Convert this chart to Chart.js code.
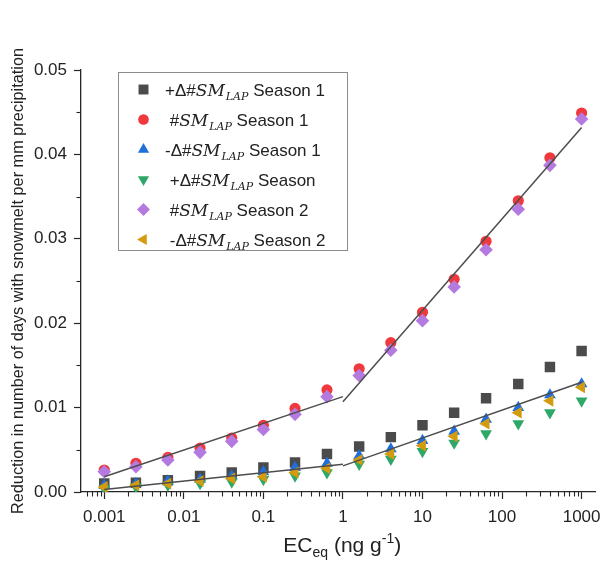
<!DOCTYPE html>
<html><head><meta charset="utf-8">
<script src="https://cdn.jsdelivr.net/npm/chart.js@4/dist/chart.umd.min.js"></script>
<style>html,body{margin:0;padding:0;background:#fff;}canvas{display:block;}</style>
</head><body>
<canvas id="c" width="603" height="564"></canvas>
<script>
// ---- data ----
const ecValues = [0.001, 0.0025, 0.0063, 0.016, 0.04, 0.1, 0.25, 0.63, 1.6, 4, 10, 25, 63, 160, 400, 1000];
const plusSeason1  = [0.0010, 0.0011, 0.0014, 0.0019, 0.0023, 0.0029, 0.0035, 0.0045, 0.0054, 0.0065, 0.0079, 0.0094, 0.0111, 0.0128, 0.0148, 0.0167];
const meanSeason1  = [0.0026, 0.0034, 0.0041, 0.0052, 0.0064, 0.0079, 0.0099, 0.0121, 0.0146, 0.0177, 0.0213, 0.0252, 0.0297, 0.0345, 0.0396, 0.0449];
const minusSeason1 = [0.0008, 0.0010, 0.0013, 0.0015, 0.0019, 0.0024, 0.0029, 0.0034, 0.0043, 0.0051, 0.0061, 0.0072, 0.0086, 0.0100, 0.0115, 0.0128];
const plusSeason2  = [0.0004, 0.0006, 0.0008, 0.0010, 0.0012, 0.0015, 0.0019, 0.0023, 0.0033, 0.0039, 0.0048, 0.0058, 0.0069, 0.0081, 0.0094, 0.0108];
const meanSeason2  = [0.0024, 0.0030, 0.0038, 0.0047, 0.0060, 0.0074, 0.0092, 0.0113, 0.0138, 0.0168, 0.0203, 0.0243, 0.0287, 0.0335, 0.0387, 0.0442];
const minusSeason2 = [0.0006, 0.0008, 0.0010, 0.0013, 0.0016, 0.0018, 0.0023, 0.0028, 0.0038, 0.0045, 0.0055, 0.0066, 0.0081, 0.0094, 0.0108, 0.0124];

const fitUpperLowX  = [0.001, 1];   const fitUpperLowY  = [0.0018, 0.0113];
const fitUpperHighX = [1, 1000];    const fitUpperHighY = [0.0107, 0.0432];
const fitLowerLowX  = [0.001, 1];   const fitLowerLowY  = [0.0003, 0.0033];
const fitLowerHighX = [1, 1000];    const fitLowerHighY = [0.0031, 0.0130];

const xTickValues = [0.001, 0.01, 0.1, 1, 10, 100, 1000];
const xTickLabels = ['0.001', '0.01', '0.1', '1', '10', '100', '1000'];
const yTickValues = [0, 0.01, 0.02, 0.03, 0.04, 0.05];
const yTickLabels = ['0.00', '0.01', '0.02', '0.03', '0.04', '0.05'];

const legendPrefixes = ['+\u0394#', ' #', '-\u0394#', ' +\u0394#', ' #', ' -\u0394#'];
const legendSuffixes = [' Season 1', ' Season 1', ' Season 1', ' Season', ' Season 2', ' Season 2'];
const yTitle = 'Reduction in number of days with snowmelt per mm precipitation';

// ---- styling ----
const axisColor = '#262626';
const textColor = '#222222';
const SANS = '"Liberation Sans", Arial, sans-serif';
const SERIF = '"DejaVu Serif", "Liberation Serif", serif';

const seriesStyles = [
  {data: plusSeason1,  color: '#4b4b4b', style: 'rect',     radius: 7.4, rotation: 0,   order: 6},
  {data: meanSeason1,  color: '#f0393d', style: 'circle',   radius: 5.6, rotation: 0,   order: 5},
  {data: minusSeason1, color: '#1f6fdc', style: 'triangle', radius: 6.8, rotation: 0,   order: 4},
  {data: plusSeason2,  color: '#2ea868', style: 'triangle', radius: 6.8, rotation: 180, order: 3},
  {data: meanSeason2,  color: '#b47ae0', style: 'rectRot',  radius: 6.8, rotation: 0,   order: 2},
  {data: minusSeason2, color: '#d49b0f', style: 'triangle', radius: 6.8, rotation: -90, order: 1},
];

const datasets = seriesStyles.map((s, i) => ({
  label: legendPrefixes[i].trim() + 'SM_LAP' + legendSuffixes[i],
  data: ecValues.map((x, k) => ({x: x, y: s.data[k]})),
  pointStyle: s.style,
  pointRadius: s.radius,
  pointRotation: s.rotation,
  pointBackgroundColor: s.color,
  pointBorderWidth: 0,
  backgroundColor: s.color,
  borderColor: s.color,
  showLine: false,
  order: s.order
}));

function fitSet(xs, ys) {
  return {
    data: xs.map((x, k) => ({x: x, y: ys[k]})),
    showLine: true, pointRadius: 0, borderColor: '#4d4d4d', borderWidth: 1.5,
    fill: false, order: 0
  };
}
datasets.push(fitSet(fitUpperLowX, fitUpperLowY));
datasets.push(fitSet(fitUpperHighX, fitUpperHighY));
datasets.push(fitSet(fitLowerLowX, fitLowerLowY));
datasets.push(fitSet(fitLowerHighX, fitLowerHighY));

const decorPlugin = {
  id: 'decor',
  afterDraw(chart) {
    const ctx = chart.ctx;
    const xs = chart.scales.x, ys = chart.scales.y;
    const a = chart.chartArea;
    ctx.save();
    // minor ticks
    ctx.strokeStyle = axisColor; ctx.lineWidth = 1.1;
    for (let e = -4; e <= 3; e++) {
      for (let m = 2; m <= 9; m++) {
        const v = m * Math.pow(10, e);
        if (v <= xs.min || v >= xs.max) continue;
        const px = Math.round(xs.getPixelForValue(v)) + 0.5;
        ctx.beginPath(); ctx.moveTo(px, a.bottom); ctx.lineTo(px, a.bottom + 4.5); ctx.stroke();
      }
    }
    for (let i = 0; i < yTickValues.length - 1; i++) {
      const v = (yTickValues[i] + yTickValues[i + 1]) / 2;
      const py = Math.round(ys.getPixelForValue(v)) + 0.5;
      ctx.beginPath(); ctx.moveTo(a.left, py); ctx.lineTo(a.left - 4.5, py); ctx.stroke();
    }

    // x-axis title with subscript / superscript
    ctx.fillStyle = textColor;
    ctx.textBaseline = 'alphabetic';
    ctx.textAlign = 'left';
    const big = '21px ' + SANS, small = '14px ' + SANS;
    const parts = [
      {t: 'EC', f: big, dy: 0},
      {t: 'eq', f: small, dy: 5},
      {t: ' (ng g', f: big, dy: 0},
      {t: '-1', f: small, dy: -9},
      {t: ')', f: big, dy: 0}
    ];
    let total = 0;
    parts.forEach(p => { ctx.font = p.f; p.w = ctx.measureText(p.t).width; total += p.w; });
    let tx = (a.left + a.right) / 2 + 4 - total / 2;
    const baseY = 552;
    parts.forEach(p => { ctx.font = p.f; ctx.fillText(p.t, tx, baseY + p.dy); tx += p.w; });

    // legend
    const lx = 118.5, ly = 72.5, lw = 229, lh = 178;
    ctx.fillStyle = '#ffffff';
    ctx.fillRect(lx, ly, lw, lh);
    ctx.strokeStyle = '#8c8c8c'; ctx.lineWidth = 1;
    ctx.strokeRect(lx, ly, lw, lh);
    seriesStyles.forEach((s, i) => {
      const cy = 89.5 + i * 30;
      ctx.fillStyle = s.color;
      Chart.helpers.drawPoint(ctx, {pointStyle: s.style, radius: s.radius * 0.95, rotation: s.rotation, borderWidth: 0}, 143.5, cy);
      ctx.fillStyle = textColor;
      let x = 165;
      const by = cy + 6;
      ctx.font = '17px ' + SANS;
      ctx.fillText(legendPrefixes[i], x, by); x += ctx.measureText(legendPrefixes[i]).width;
      ctx.font = 'italic 17px ' + SERIF;
      ctx.fillText('SM', x, by); x += ctx.measureText('SM').width + 1;
      ctx.font = 'italic 11px ' + SERIF;
      ctx.fillText('LAP', x, by + 4); x += ctx.measureText('LAP').width;
      ctx.font = '17px ' + SANS;
      ctx.fillText(legendSuffixes[i], x, by);
    });
    ctx.restore();
  }
};

new Chart(document.getElementById('c'), {
  type: 'scatter',
  data: {datasets: datasets},
  plugins: [decorPlugin],
  options: {
    responsive: false,
    animation: false,
    devicePixelRatio: 1,
    layout: {padding: {top: 70, right: 5, bottom: 0, left: 0}},
    plugins: {legend: {display: false}, tooltip: {enabled: false}},
    scales: {
      x: {
        type: 'logarithmic',
        position: 'bottom',
        min: 0.00051, max: 1500,
        border: {display: true, color: axisColor, width: 1.3},
        grid: {display: true, drawOnChartArea: false, drawTicks: true, tickLength: 7, tickColor: axisColor, tickWidth: 1.2},
        ticks: {autoSkip: false, maxRotation: 0, minRotation: 0, padding: 8, color: textColor,
          font: {family: SANS, size: 17},
          callback: (v, i) => xTickLabels[i]},
        afterBuildTicks: s => { s.ticks = xTickValues.map(v => ({value: v})); },
        afterFit: s => { s.height = 72; s.paddingLeft = 0; s.paddingRight = 0; },
        title: {display: false}
      },
      y: {
        type: 'linear',
        position: 'left',
        min: 0, max: 0.05,
        border: {display: true, color: axisColor, width: 1.3},
        grid: {display: true, drawOnChartArea: false, drawTicks: true, tickLength: 7, tickColor: axisColor, tickWidth: 1.2},
        ticks: {padding: 7, color: textColor, font: {family: SANS, size: 17},
          callback: (v, i) => yTickLabels[i]},
        afterBuildTicks: s => { s.ticks = yTickValues.map(v => ({value: v})); },
        afterFit: s => { s.width = 81; s.paddingTop = 0; s.paddingBottom = 0; },
        title: {display: true, text: yTitle, color: textColor, font: {family: SANS, size: 16.3}, padding: {top: 9, bottom: 0}}
      }
    }
  }
});
</script>
</body></html>
